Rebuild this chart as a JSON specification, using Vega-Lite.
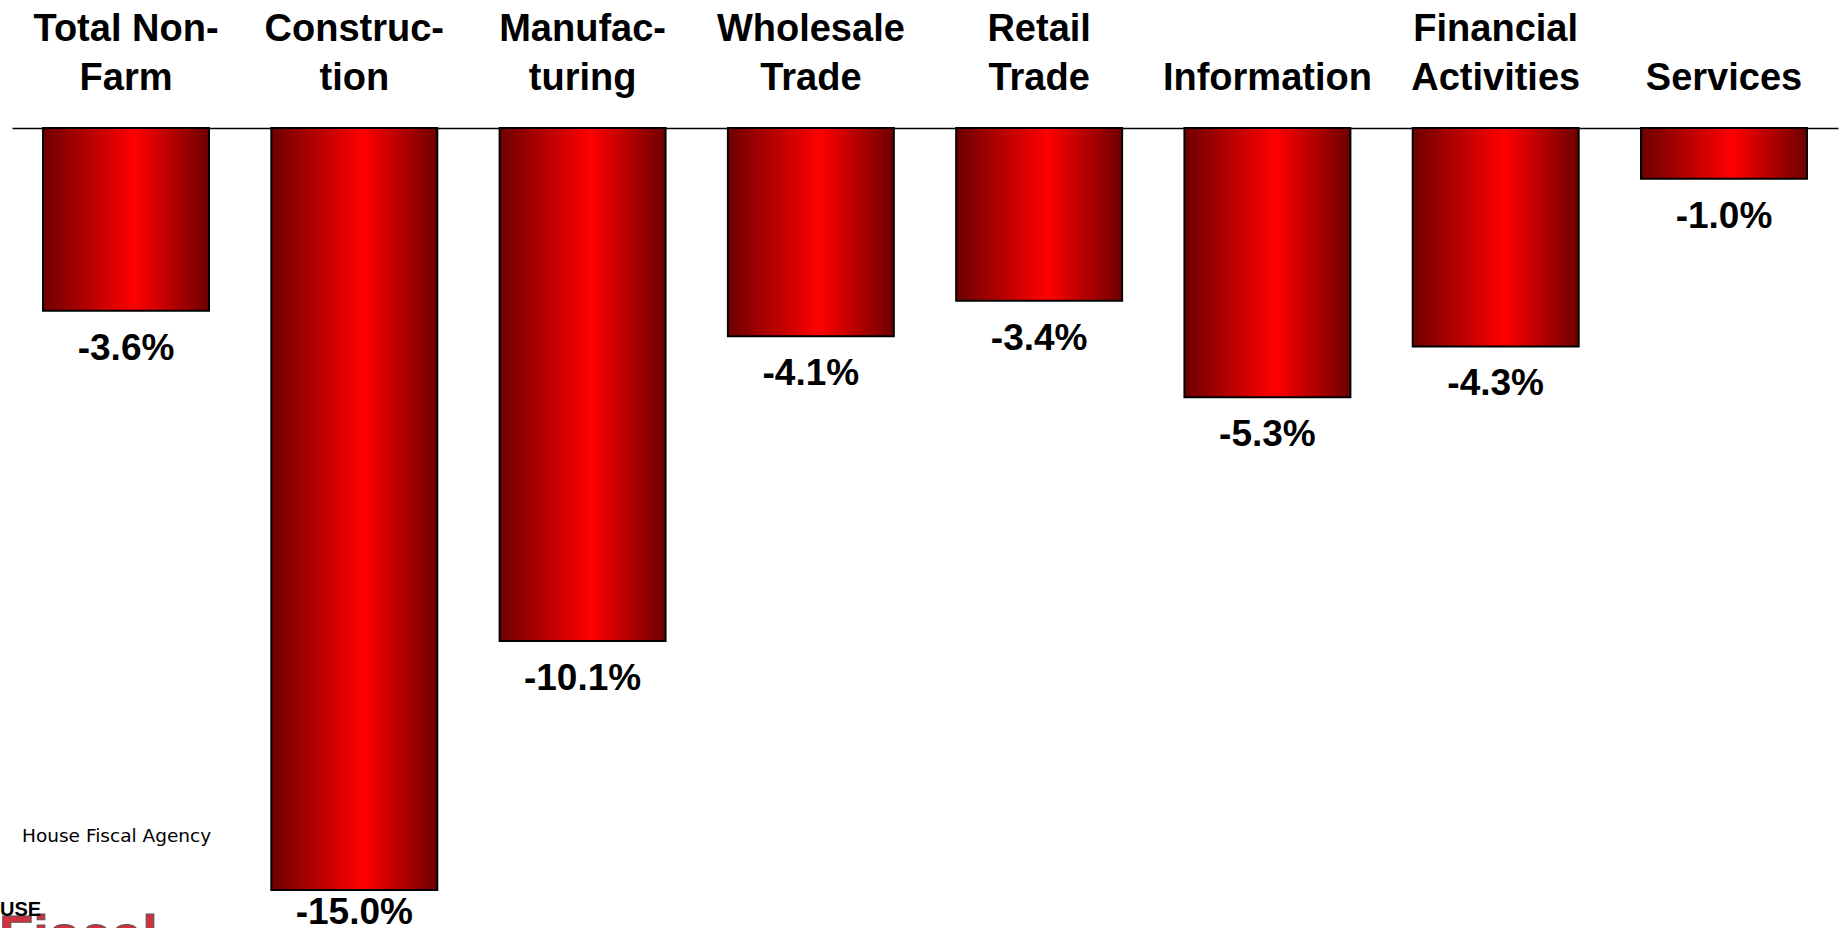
{
  "$schema": "https://vega.github.io/schema/vega-lite/v6.json",
  "autosize": {"type": "none"},
  "padding": {"left": 12, "top": 128, "right": 3, "bottom": 0},
  "width": 1826,
  "height": 800,
  "background": "white",
  "config": {
    "view": {"stroke": null},
    "locale": {"number": {"decimal": ".", "thousands": ",", "grouping": [3], "currency": ["$", ""], "minus": "-"}}
  },
  "data": {
    "values": [
      {"category": "Total Non-Farm", "value": -0.036},
      {"category": "Construction", "value": -0.150},
      {"category": "Manufacturing", "value": -0.101},
      {"category": "Wholesale Trade", "value": -0.041},
      {"category": "Retail Trade", "value": -0.034},
      {"category": "Information", "value": -0.053},
      {"category": "Financial Activities", "value": -0.043},
      {"category": "Services", "value": -0.010}
    ]
  },
  "layer": [
    {
      "mark": {
        "type": "bar",
        "fill": {
          "gradient": "linear",
          "x1": 0, "x2": 1, "y1": 0, "y2": 0,
          "stops": [
            {"offset": 0, "color": "#6e0000"},
            {"offset": 0.55, "color": "#ff0000"},
            {"offset": 1, "color": "#6e0000"}
          ]
        },
        "stroke": "black",
        "strokeWidth": 2
      },
      "encoding": {
        "x": {
          "field": "category",
          "type": "nominal",
          "sort": null,
          "scale": {"paddingInner": 0.273, "paddingOuter": 0.136},
          "axis": {
            "orient": "top",
            "title": null,
            "ticks": false,
            "tickSize": 0,
            "labelPadding": 79.5,
            "labelAngle": 0,
            "labelFont": "Liberation Sans",
            "labelFontWeight": "bold",
            "labelFontSize": 38,
            "labelColor": "black",
            "labelLineHeight": 48.5,
            "labelBaseline": "bottom",
            "labelLimit": 0,
            "labelOverlap": false,
            "labelExpr": "{'Total Non-Farm':['Total Non-','Farm'],'Construction':['Construc-','tion'],'Manufacturing':['Manufac-','turing'],'Wholesale Trade':['Wholesale','Trade'],'Retail Trade':['Retail','Trade'],'Information':['','Information'],'Financial Activities':['Financial','Activities'],'Services':['','Services']}[datum.value]",
            "domainColor": "black",
            "domainWidth": 1.5
          }
        },
        "y": {
          "field": "value",
          "type": "quantitative",
          "scale": {"domain": [-0.1575, 0], "nice": false, "zero": false},
          "axis": null
        }
      }
    },
    {
      "transform": [{"filter": "datum.value > -0.14"}],
      "mark": {"type": "text", "font": "Liberation Sans", "fontWeight": "bold", "fontSize": 37, "baseline": "alphabetic", "dy": 49, "color": "black"},
      "encoding": {
        "x": {"field": "category", "type": "nominal", "sort": null},
        "y": {"field": "value", "type": "quantitative"},
        "text": {"field": "value", "type": "quantitative", "format": ".1%"}
      }
    },
    {
      "transform": [{"filter": "datum.value <= -0.14"}],
      "mark": {"type": "text", "font": "Liberation Sans", "fontWeight": "bold", "fontSize": 37, "baseline": "alphabetic", "dy": 34, "color": "black"},
      "encoding": {
        "x": {"field": "category", "type": "nominal", "sort": null},
        "y": {"field": "value", "type": "quantitative"},
        "text": {"field": "value", "type": "quantitative", "format": ".1%"}
      }
    },
    {
      "transform": [{"filter": "datum.category == 'Total Non-Farm'"}],
      "mark": {"type": "text", "font": "DejaVu Sans", "fontSize": 18.5, "align": "left", "baseline": "alphabetic", "dx": -104, "color": "black", "text": "House Fiscal Agency"},
      "encoding": {
        "x": {"field": "category", "type": "nominal", "sort": null},
        "y": {"datum": -0.1405, "type": "quantitative"}
      }
    },
    {
      "transform": [{"filter": "datum.category == 'Total Non-Farm'"}],
      "mark": {"type": "text", "font": "Liberation Sans", "fontWeight": "bold", "fontSize": 56, "align": "left", "baseline": "top", "dx": -127, "color": "#d1323c", "stroke": "#555555", "strokeWidth": 1, "text": "Fiscal"},
      "encoding": {
        "x": {"field": "category", "type": "nominal", "sort": null},
        "y": {"datum": -0.1539, "type": "quantitative"}
      }
    },
    {
      "transform": [{"filter": "datum.category == 'Total Non-Farm'"}],
      "mark": {"type": "text", "font": "Liberation Sans", "fontWeight": "bold", "fontSize": 20, "align": "left", "baseline": "alphabetic", "dx": -126, "color": "black", "text": "USE"},
      "encoding": {
        "x": {"field": "category", "type": "nominal", "sort": null},
        "y": {"datum": -0.1551, "type": "quantitative"}
      }
    }
  ]
}
